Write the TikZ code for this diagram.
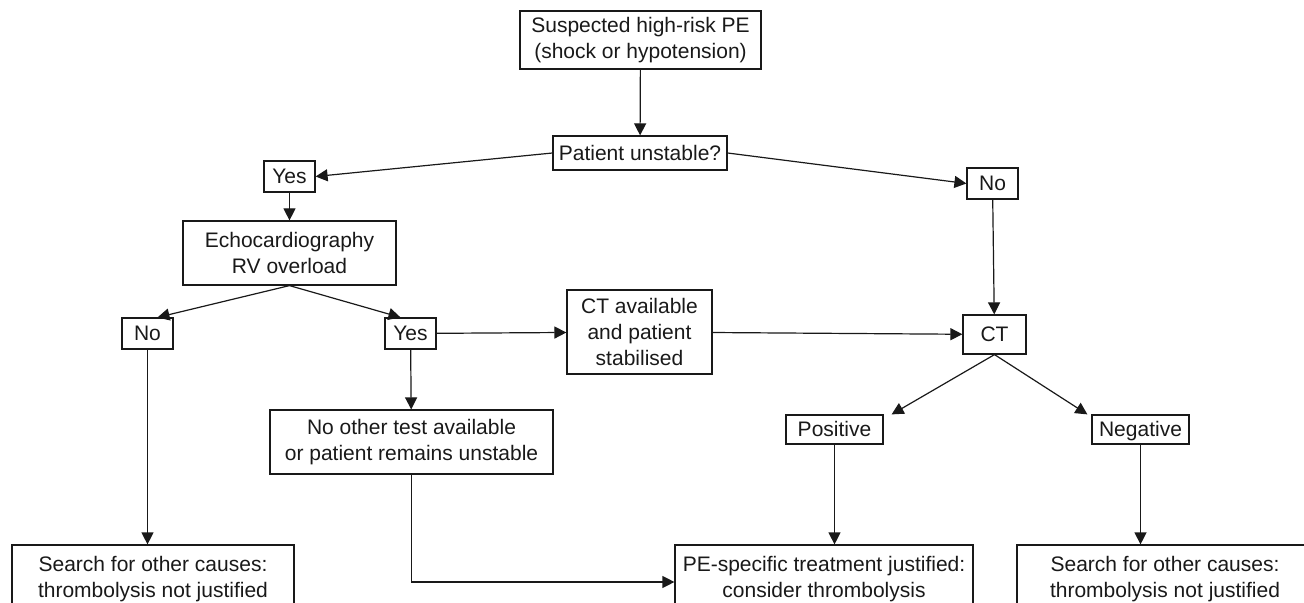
\documentclass[tikz,border=0pt]{standalone}
\usepackage{fontspec}
\setmainfont{Liberation Sans}
\usetikzlibrary{arrows.meta}

\begin{document}
\begin{tikzpicture}[x=0.5pt, y=-0.5pt]
		\tikzset{
			every node/.style={
				draw=black!90,
				text=black!90,
				line width=0.6pt,
				align=center,
				inner sep=0pt,
				font=\fontsize{10.5}{13}\selectfont
			},
			answer/.style={
				minimum width=25.5pt,
				minimum height=15.5pt,
				text height=7.6pt,
				text depth=0.4pt
			},
			result/.style={
				minimum width=48.5pt,
				minimum height=14.5pt,
				text height=7.6pt,
				text depth=0.4pt
			},
			line/.style={
				draw=black!90,
				line width=0.6pt,
				-{Triangle[length=6pt, width=6pt]}
			}
		}

		\useasboundingbox (0,0) rectangle (1304,603);
		\clip (0,0) rectangle (1304,603);

		\node[minimum width=120.5pt, minimum height=29pt] (suspect) at (640.5, 40)
			{Suspected high-risk PE\\(shock or hypotension)};
		\node[minimum width=87pt, minimum height=17pt] (unstable) at (640, 153)
			{Patient unstable?};

		\node[answer] (yes1) at (289.5, 176.5)
			{Yes};
		\node[answer] (no1) at (992.5, 183.5)
			{No};

		\node[minimum width=106.5pt, minimum height=32pt] (echo) at (289.5, 253)
			{Echocardiography\\RV overload};

		\node[answer] (no2) at (147.5, 333.5)
			{No};
		\node[answer] (yes2) at (410.5, 333.5)
			{Yes};

		\node[minimum width=72.5pt, minimum height=42pt] (ctavail) at (639.5, 332)
			{CT available\\and patient\\stabilised};
		\node[minimum width=31.5pt, minimum height=19.5pt] (ct) at (994.5, 334.5)
			{CT};

		\node[minimum width=141.5pt, minimum height=32pt] (notest) at (411.5, 442)
			{No other test available\\or patient remains unstable};

		\node[result] (pos) at (834.5, 429.5)
			{Positive};
		\node[result] (neg) at (1140.5, 429.5)
			{Negative};

		\node[minimum width=141pt, minimum height=34pt] (search1) at (153, 579)
			{Search for other causes:\\thrombolysis not justified};
		\node[minimum width=149pt, minimum height=34pt] (treat) at (824, 579)
			{PE-specific treatment justified:\\consider thrombolysis};
		\node[minimum width=148pt, minimum height=34pt] (search2) at (1165, 579)
			{Search for other causes:\\thrombolysis not justified};

		\draw[line] (suspect) -- (unstable);
		\draw[line] (unstable.west) -- (yes1.east);
		\draw[line] (unstable.east) -- (no1.west);

		\draw[line] (yes1) -- (echo);
		\draw[line] (echo.south) -- ([xshift=5pt]no2.north);
		\draw[line] (echo.south) -- ([xshift=-5pt]yes2.north);

		\draw[line] (yes2) -- (ctavail);
		\draw[line] (yes2) -- (notest);
		\draw[line] (ctavail) -- (ct);
		\draw[line] (no1) -- (ct);

		\draw[line] (ct.south) -- ([xshift=4pt]pos.north east);
		\draw[line] (ct.south) -- ([xshift=-2pt]neg.north west);

		\draw[line] (no2) -- (no2 |- search1.north);
		\draw[line] (pos) -- (pos |- treat.north);
		\draw[line] (neg) -- (neg |- search2.north);
		\draw[line] (notest.south) |- ([yshift=-1.5pt]treat.west);

	\end{tikzpicture}
\end{document}
